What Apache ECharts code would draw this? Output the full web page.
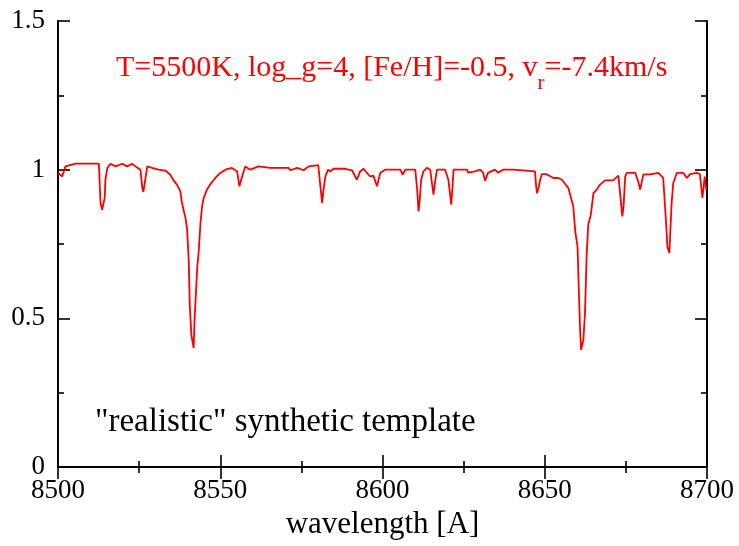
<!DOCTYPE html>
<html><head><meta charset="utf-8">
<script src="https://cdn.jsdelivr.net/npm/echarts@6/dist/echarts.min.js"></script>
<style>html,body{margin:0;padding:0;background:#fff}#c{width:739px;height:546px}</style>
</head><body><div id="c"></div>
<script>
const wavelength = [8500.0,8501.3,8502.3,8505.4,8512.6,8512.8,8513.1,8513.6,8514.4,8514.6,8515.2,8516.2,8517.7,8519.8,8521.3,8522.8,8523.9,8525.4,8526.0,8526.3,8526.8,8527.5,8529.0,8531.0,8533.1,8534.6,8535.7,8536.7,8537.7,8538.2,8539.3,8539.8,8540.3,8540.6,8541.1,8541.8,8542.1,8542.9,8543.4,8543.9,8544.4,8544.9,8545.9,8547.0,8548.5,8550.0,8551.6,8553.6,8555.2,8555.9,8556.9,8557.7,8559.3,8561.8,8565.4,8571.1,8571.6,8573.7,8575.7,8577.2,8580.2,8580.8,8581.4,8581.8,8582.4,8583.2,8583.9,8584.9,8588.5,8590.6,8592.1,8593.1,8594.2,8595.2,8596.2,8597.2,8598.3,8599.3,8600.8,8605.5,8606.2,8607.0,8610.1,8610.7,8611.1,8611.5,8611.9,8612.6,8613.7,8614.7,8615.3,8615.7,8616.2,8616.8,8619.3,8620.3,8621.2,8621.5,8621.9,8626.1,8626.4,8628.5,8630.1,8631.0,8631.6,8632.5,8634.7,8635.6,8637.2,8640.3,8640.8,8647.0,8647.3,8647.6,8648.1,8648.6,8649.1,8650.4,8651.7,8652.7,8654.1,8655.3,8656.3,8657.3,8658.1,8658.8,8659.4,8660.1,8660.6,8660.9,8661.2,8661.9,8662.4,8662.9,8663.4,8664.2,8665.0,8666.0,8667.0,8668.6,8671.1,8671.7,8672.7,8673.4,8673.9,8674.3,8674.8,8675.3,8677.9,8678.8,8679.4,8680.4,8682.5,8685.0,8686.5,8687.4,8687.8,8688.4,8689.1,8689.6,8690.7,8692.7,8693.8,8694.8,8696.8,8697.8,8698.6,8699.3,8699.8];
const flux = [0.990,0.977,1.011,1.020,1.020,1.020,0.889,0.865,0.906,0.966,1.006,1.020,1.011,1.020,1.011,1.020,1.011,1.000,0.937,0.925,0.960,1.011,1.006,1.000,0.997,0.983,0.963,0.949,0.927,0.888,0.837,0.798,0.691,0.545,0.444,0.400,0.500,0.669,0.731,0.820,0.876,0.905,0.933,0.952,0.972,0.989,1.000,1.006,0.994,0.944,0.983,1.011,1.000,1.011,1.006,1.006,0.998,1.006,0.998,1.011,1.015,0.950,0.888,0.930,0.977,1.000,0.994,1.003,1.003,0.998,0.966,0.994,1.003,0.989,0.977,0.980,0.944,0.989,1.000,1.000,0.983,1.000,1.000,0.930,0.860,0.900,0.966,0.994,1.006,1.000,0.950,0.916,0.960,1.000,1.000,0.966,0.882,0.930,1.000,1.000,0.990,0.994,1.000,0.990,0.963,0.989,1.000,0.990,1.000,1.000,0.994,0.994,0.950,0.921,0.940,0.966,0.985,0.985,0.978,0.972,0.972,0.966,0.952,0.938,0.905,0.876,0.792,0.742,0.557,0.460,0.394,0.428,0.517,0.708,0.815,0.848,0.921,0.933,0.949,0.964,0.964,0.960,0.980,0.900,0.843,0.880,0.977,0.989,0.989,0.960,0.933,0.984,0.984,0.989,0.972,0.820,0.740,0.720,0.888,0.955,0.989,0.989,0.972,0.985,0.989,0.985,0.905,0.977,0.933];
const xTicks = [8500, 8550, 8600, 8650, 8700];
const yTicks = [0, 0.5, 1, 1.5];
const paramText = ['T=5500K, log_g=4, [Fe/H]=-0.5, v', 'r', '=-7.4km/s'];
const templateText = '"realistic" synthetic template';
const xName = 'wavelength [A]';

const FONT = '"Liberation Serif", "DejaVu Serif", serif';
const chart = echarts.init(document.getElementById('c'));
const axisBase = {
  axisLine: {show: true, lineStyle: {color: '#000', width: 2}},
  splitLine: {show: false},
  axisTick: {show: true, inside: true, length: 12, lineStyle: {color: '#000', width: 1.6}},
  minorTick: {show: true, splitNumber: 2, length: 6, lineStyle: {color: '#000', width: 1.6}}
};
chart.setOption({
  animation: false,
  backgroundColor: '#fff',
  grid: {left: 58, right: 32, top: 21, bottom: 79},
  xAxis: [{
    ...axisBase, type: 'value', position: 'bottom', min: 8500, max: 8700, interval: 50,
    axisLabel: {color: '#000', fontFamily: FONT, fontSize: 27, margin: 10,
      formatter: v => xTicks.includes(v) ? String(v) : ''},
    name: xName, nameLocation: 'middle', nameGap: 37,
    nameTextStyle: {color: '#000', fontFamily: FONT, fontSize: 31}
  }, {
    ...axisBase, type: 'value', position: 'top', min: 8500, max: 8700, interval: 50,
    axisLabel: {show: false}
  }],
  yAxis: [{
    ...axisBase, type: 'value', position: 'left', min: 0, max: 1.5, interval: 0.5,
    axisLabel: {color: '#000', fontFamily: FONT, fontSize: 27, margin: 13,
      formatter: v => yTicks.includes(v) ? String(v) : ''}
  }, {
    ...axisBase, type: 'value', position: 'right', min: 0, max: 1.5, interval: 0.5,
    axisLabel: {show: false}
  }],
  series: [{
    type: 'line', xAxisIndex: 0, yAxisIndex: 0, showSymbol: false, symbol: 'none',
    lineStyle: {color: '#ff0000', width: 1.8},
    data: wavelength.map((w, i) => [w, flux[i]])
  }],
  graphic: [{
    type: 'text', left: 116, top: 53,
    style: {
      text: '{a|' + paramText[0] + '}{s|' + paramText[1] + '}{a|' + paramText[2] + '}',
      rich: {
        a: {fontFamily: FONT, fontSize: 30, fill: '#ff0000', verticalAlign: 'bottom', lineHeight: 34},
        s: {fontFamily: FONT, fontSize: 21, fill: '#ff0000', verticalAlign: 'bottom', lineHeight: 34, padding: [0,0,-11,0]}
      }
    }
  }, {
    type: 'text', left: 95, top: 406,
    style: {text: templateText, fontFamily: FONT, fontSize: 33, fill: '#000'}
  }]
});
</script></body></html>
